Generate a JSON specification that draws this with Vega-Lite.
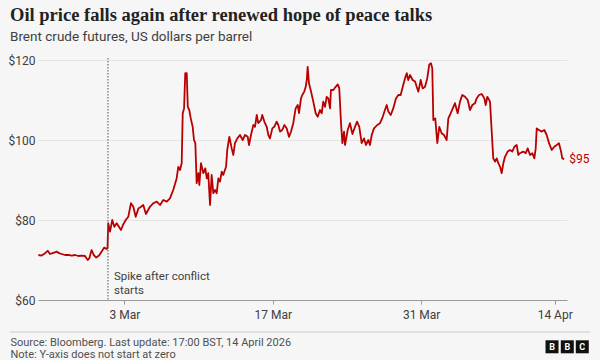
{
  "$schema": "https://vega.github.io/schema/vega-lite/v6.json",
  "width": 529,
  "height": 240,
  "autosize": {"type": "none"},
  "padding": {"left": 38, "top": 60, "right": 33, "bottom": 60},
  "background": "#f6f6f6",
  "config": {"view": {"stroke": null}, "font": "Roboto"},
  "title": {
    "text": "Oil price falls again after renewed hope of peace talks",
    "subtitle": "Brent crude futures, US dollars per barrel",
    "anchor": "start",
    "frame": "group",
    "dx": -28,
    "offset": 11,
    "font": "Liberation Serif",
    "fontSize": 18.5,
    "fontWeight": "bold",
    "color": "#222222",
    "subtitleFont": "Roboto",
    "subtitleFontSize": 13.5,
    "subtitleColor": "#404040",
    "subtitlePadding": 5
  },
  "data": {"values": [{}]},
  "datasets": {
    "brent": [
      {"d":0.20,"v":71.25},{"d":0.42,"v":71.1},{"d":0.65,"v":71.7},{"d":0.83,"v":72.3},{"d":0.98,"v":71.5},
      {"d":1.21,"v":71.8},{"d":1.44,"v":72.1},{"d":1.59,"v":71.7},{"d":1.77,"v":71.5},{"d":2.00,"v":71.25},
      {"d":2.22,"v":71.3},{"d":2.45,"v":71.1},{"d":2.67,"v":71.25},{"d":2.89,"v":71.0},{"d":3.12,"v":71.1},
      {"d":3.34,"v":71.0},{"d":3.53,"v":70.0},{"d":3.63,"v":70.4},{"d":3.79,"v":72.5},{"d":3.93,"v":71.25},
      {"d":4.10,"v":70.6},{"d":4.29,"v":71.1},{"d":4.47,"v":72.1},{"d":4.64,"v":73.1},{"d":4.81,"v":72.75},
      {"d":4.86,"v":73.0},{"d":4.91,"v":79.2},{"d":5.03,"v":77.1},{"d":5.18,"v":80.0},{"d":5.32,"v":78.3},
      {"d":5.48,"v":79.2},{"d":5.63,"v":78.3},{"d":5.77,"v":77.5},{"d":5.92,"v":78.9},{"d":6.09,"v":80.0},
      {"d":6.26,"v":80.8},{"d":6.44,"v":84.2},{"d":6.60,"v":83.3},{"d":6.76,"v":80.8},{"d":6.94,"v":82.9},
      {"d":7.12,"v":83.3},{"d":7.27,"v":83.75},{"d":7.45,"v":81.5},{"d":7.72,"v":83.3},{"d":7.95,"v":84.2},
      {"d":8.18,"v":84.6},{"d":8.40,"v":83.75},{"d":8.62,"v":85.0},{"d":8.85,"v":84.6},{"d":9.07,"v":85.4},
      {"d":9.29,"v":87.5},{"d":9.52,"v":90.4},{"d":9.63,"v":93.3},{"d":9.75,"v":92.5},{"d":9.86,"v":94.2},
      {"d":9.93,"v":106.7},{"d":10.02,"v":107.9},{"d":10.10,"v":116.7},{"d":10.20,"v":116.7},{"d":10.27,"v":108.3},
      {"d":10.37,"v":107.5},{"d":10.47,"v":105.4},{"d":10.60,"v":103.3},{"d":10.69,"v":100.0},{"d":10.78,"v":99.2},
      {"d":10.87,"v":89.2},{"d":10.98,"v":91.7},{"d":11.05,"v":88.75},{"d":11.16,"v":94.2},{"d":11.32,"v":91.7},
      {"d":11.45,"v":92.9},{"d":11.55,"v":90.4},{"d":11.65,"v":91.7},{"d":11.77,"v":83.75},{"d":11.88,"v":91.25},
      {"d":11.99,"v":86.7},{"d":12.11,"v":87.5},{"d":12.22,"v":86.7},{"d":12.33,"v":90.4},{"d":12.44,"v":89.6},
      {"d":12.56,"v":92.1},{"d":12.66,"v":91.25},{"d":12.85,"v":93.3},{"d":12.93,"v":97.5},{"d":13.07,"v":100.8},
      {"d":13.23,"v":97.9},{"d":13.34,"v":96.25},{"d":13.45,"v":99.2},{"d":13.61,"v":100.4},{"d":13.79,"v":101.25},
      {"d":13.97,"v":100.0},{"d":14.13,"v":101.25},{"d":14.31,"v":100.8},{"d":14.40,"v":98.75},{"d":14.53,"v":101.25},
      {"d":14.69,"v":103.75},{"d":14.80,"v":103.3},{"d":14.92,"v":106.25},{"d":15.02,"v":104.2},{"d":15.21,"v":105.0},
      {"d":15.29,"v":106.25},{"d":15.43,"v":104.6},{"d":15.59,"v":103.3},{"d":15.70,"v":101.25},{"d":15.81,"v":100.4},
      {"d":15.97,"v":102.9},{"d":16.10,"v":103.3},{"d":16.26,"v":104.6},{"d":16.37,"v":103.75},{"d":16.49,"v":102.1},
      {"d":16.64,"v":102.5},{"d":16.78,"v":103.75},{"d":16.94,"v":102.9},{"d":17.09,"v":100.8},{"d":17.23,"v":102.1},
      {"d":17.38,"v":104.2},{"d":17.54,"v":107.9},{"d":17.68,"v":108.75},{"d":17.77,"v":106.7},{"d":17.90,"v":110.4},
      {"d":17.99,"v":111.25},{"d":18.12,"v":112.1},{"d":18.22,"v":113.3},{"d":18.29,"v":115.0},{"d":18.35,"v":118.3},
      {"d":18.44,"v":114.2},{"d":18.58,"v":112.1},{"d":18.73,"v":109.6},{"d":18.89,"v":106.7},{"d":19.03,"v":105.8},
      {"d":19.18,"v":107.5},{"d":19.30,"v":106.7},{"d":19.40,"v":109.6},{"d":19.52,"v":108.3},{"d":19.63,"v":110.8},
      {"d":19.74,"v":110.4},{"d":19.86,"v":107.9},{"d":19.92,"v":112.5},{"d":20.08,"v":112.5},{"d":20.24,"v":113.3},
      {"d":20.38,"v":113.9},{"d":20.48,"v":112.9},{"d":20.60,"v":104.2},{"d":20.69,"v":99.2},{"d":20.80,"v":102.1},
      {"d":20.87,"v":98.75},{"d":21.05,"v":102.5},{"d":21.20,"v":104.2},{"d":21.37,"v":101.5},{"d":21.54,"v":103.3},
      {"d":21.68,"v":104.6},{"d":21.83,"v":103.3},{"d":21.99,"v":99.2},{"d":22.15,"v":100.4},{"d":22.28,"v":98.75},
      {"d":22.44,"v":100.0},{"d":22.55,"v":98.75},{"d":22.67,"v":101.25},{"d":22.82,"v":102.9},{"d":23.04,"v":103.75},
      {"d":23.23,"v":104.2},{"d":23.41,"v":105.8},{"d":23.56,"v":107.5},{"d":23.68,"v":108.75},{"d":23.79,"v":107.1},
      {"d":23.95,"v":106.25},{"d":24.12,"v":107.9},{"d":24.30,"v":110.4},{"d":24.46,"v":111.25},{"d":24.62,"v":111.25},
      {"d":24.76,"v":113.3},{"d":24.91,"v":115.4},{"d":25.03,"v":116.7},{"d":25.13,"v":115.0},{"d":25.25,"v":116.25},
      {"d":25.43,"v":115.0},{"d":25.59,"v":114.6},{"d":25.70,"v":113.3},{"d":25.81,"v":112.1},{"d":25.97,"v":115.0},
      {"d":26.10,"v":112.9},{"d":26.26,"v":113.3},{"d":26.41,"v":115.4},{"d":26.55,"v":118.9},{"d":26.66,"v":119.2},
      {"d":26.75,"v":117.9},{"d":26.82,"v":105.0},{"d":26.95,"v":105.4},{"d":27.09,"v":99.2},{"d":27.22,"v":103.3},
      {"d":27.38,"v":101.7},{"d":27.54,"v":101.25},{"d":27.72,"v":100.0},{"d":27.83,"v":105.4},{"d":27.94,"v":106.25},
      {"d":28.13,"v":107.9},{"d":28.28,"v":109.2},{"d":28.46,"v":106.7},{"d":28.62,"v":109.6},{"d":28.77,"v":111.25},
      {"d":28.96,"v":110.8},{"d":29.14,"v":110.0},{"d":29.29,"v":107.5},{"d":29.45,"v":108.75},{"d":29.63,"v":109.2},
      {"d":29.74,"v":110.4},{"d":29.90,"v":111.25},{"d":30.08,"v":111.5},{"d":30.26,"v":110.4},{"d":30.35,"v":108.75},
      {"d":30.46,"v":110.8},{"d":30.64,"v":109.6},{"d":30.75,"v":102.5},{"d":30.86,"v":95.4},{"d":30.98,"v":94.6},
      {"d":31.09,"v":95.4},{"d":31.20,"v":94.2},{"d":31.32,"v":93.3},{"d":31.43,"v":91.7},{"d":31.54,"v":94.2},
      {"d":31.65,"v":95.8},{"d":31.83,"v":97.1},{"d":31.99,"v":97.5},{"d":32.14,"v":97.1},{"d":32.28,"v":98.3},
      {"d":32.44,"v":98.75},{"d":32.55,"v":96.25},{"d":32.66,"v":96.7},{"d":32.88,"v":97.1},{"d":33.05,"v":96.7},
      {"d":33.18,"v":97.9},{"d":33.34,"v":96.25},{"d":33.49,"v":96.7},{"d":33.63,"v":95.4},{"d":33.72,"v":97.9},
      {"d":33.79,"v":102.9},{"d":33.94,"v":102.5},{"d":34.13,"v":102.1},{"d":34.30,"v":102.5},{"d":34.46,"v":101.25},
      {"d":34.62,"v":99.2},{"d":34.80,"v":97.5},{"d":34.97,"v":98.3},{"d":35.14,"v":98.75},{"d":35.29,"v":99.2},
      {"d":35.43,"v":97.1},{"d":35.51,"v":95.4},{"d":35.64,"v":95.2}
    ]
  },
  "layer": [
    {
      "data": {"name": "brent"},
      "mark": {"type": "line", "color": "#b80000", "strokeWidth": 1.8, "strokeJoin": "round"},
      "encoding": {
        "x": {
          "field": "d", "type": "quantitative",
          "scale": {"domain": [0.175, 35.83], "nice": false, "zero": false},
          "axis": {
            "values": [6, 16, 26, 35],
            "labelExpr": "datum.value == 6 ? '3 Mar' : datum.value == 16 ? '17 Mar' : datum.value == 26 ? '31 Mar' : '14 Apr'",
            "grid": false,
            "domainColor": "#9a9a9a",
            "tickColor": "#9a9a9a",
            "tickSize": 4,
            "labelFontSize": 12,
            "labelColor": "#404040",
            "labelPadding": 5,
            "title": ["Source: Bloomberg. Last update: 17:00 BST, 14 April 2026", "Note: Y-axis does not start at zero"],
            "titleFontSize": 11,
            "titleFontWeight": "normal",
            "titleColor": "#505050",
            "titleAnchor": null,
            "titleAlign": "left",
            "titleBaseline": "top",
            "titleX": -28,
            "titleY": 36,
            "titleLineHeight": 12.5
          }
        },
        "y": {
          "field": "v", "type": "quantitative",
          "scale": {"domain": [60, 120], "nice": false, "zero": false},
          "axis": {
            "values": [60, 80, 100, 120],
            "labelExpr": "'$' + datum.value",
            "domain": false,
            "ticks": false,
            "gridColor": "#e4e4e4",
            "labelFontSize": 12,
            "labelColor": "#404040",
            "labelPadding": 3,
            "title": null
          }
        }
      }
    },
    {
      "mark": {"type": "rule", "color": "#555555", "strokeDash": [1.5, 1.5], "strokeWidth": 1},
      "encoding": {
        "x": {"datum": 4.89, "type": "quantitative"},
        "y": {"datum": 120.5, "type": "quantitative"},
        "y2": {"datum": 60}
      }
    },
    {
      "mark": {"type": "text", "text": ["Spike after conflict", "starts"], "align": "left", "baseline": "middle", "fontSize": 11.5, "color": "#404040", "lineHeight": 14},
      "encoding": {
        "x": {"datum": 5.3, "type": "quantitative"},
        "y": {"datum": 65.75, "type": "quantitative"}
      }
    },
    {
      "mark": {"type": "text", "text": "$95", "align": "left", "baseline": "middle", "dx": 5, "fontSize": 12, "color": "#b80000"},
      "encoding": {
        "x": {"datum": 35.64, "type": "quantitative"},
        "y": {"datum": 95.2, "type": "quantitative"}
      }
    },
    {
      "mark": {"type": "rule", "color": "#cccccc", "strokeWidth": 1},
      "encoding": {
        "x": {"datum": -1.71, "type": "quantitative"},
        "x2": {"datum": 37.38},
        "y": {"datum": 52, "type": "quantitative"}
      }
    },
    {
      "mark": {"type": "square", "color": "#111111", "opacity": 1, "size": 169},
      "encoding": {"x": {"datum": 34.82, "type": "quantitative"}, "y": {"datum": 48.3, "type": "quantitative"}}
    },
    {
      "mark": {"type": "square", "color": "#111111", "opacity": 1, "size": 169},
      "encoding": {"x": {"datum": 35.85, "type": "quantitative"}, "y": {"datum": 48.3, "type": "quantitative"}}
    },
    {
      "mark": {"type": "square", "color": "#111111", "opacity": 1, "size": 169},
      "encoding": {"x": {"datum": 36.86, "type": "quantitative"}, "y": {"datum": 48.3, "type": "quantitative"}}
    },
    {
      "mark": {"type": "text", "text": "B", "color": "#ffffff", "fontSize": 9, "fontWeight": "bold", "align": "center", "baseline": "middle"},
      "encoding": {"x": {"datum": 34.82, "type": "quantitative"}, "y": {"datum": 48.3, "type": "quantitative"}}
    },
    {
      "mark": {"type": "text", "text": "B", "color": "#ffffff", "fontSize": 9, "fontWeight": "bold", "align": "center", "baseline": "middle"},
      "encoding": {"x": {"datum": 35.85, "type": "quantitative"}, "y": {"datum": 48.3, "type": "quantitative"}}
    },
    {
      "mark": {"type": "text", "text": "C", "color": "#ffffff", "fontSize": 9, "fontWeight": "bold", "align": "center", "baseline": "middle"},
      "encoding": {"x": {"datum": 36.86, "type": "quantitative"}, "y": {"datum": 48.3, "type": "quantitative"}}
    }
  ]
}
